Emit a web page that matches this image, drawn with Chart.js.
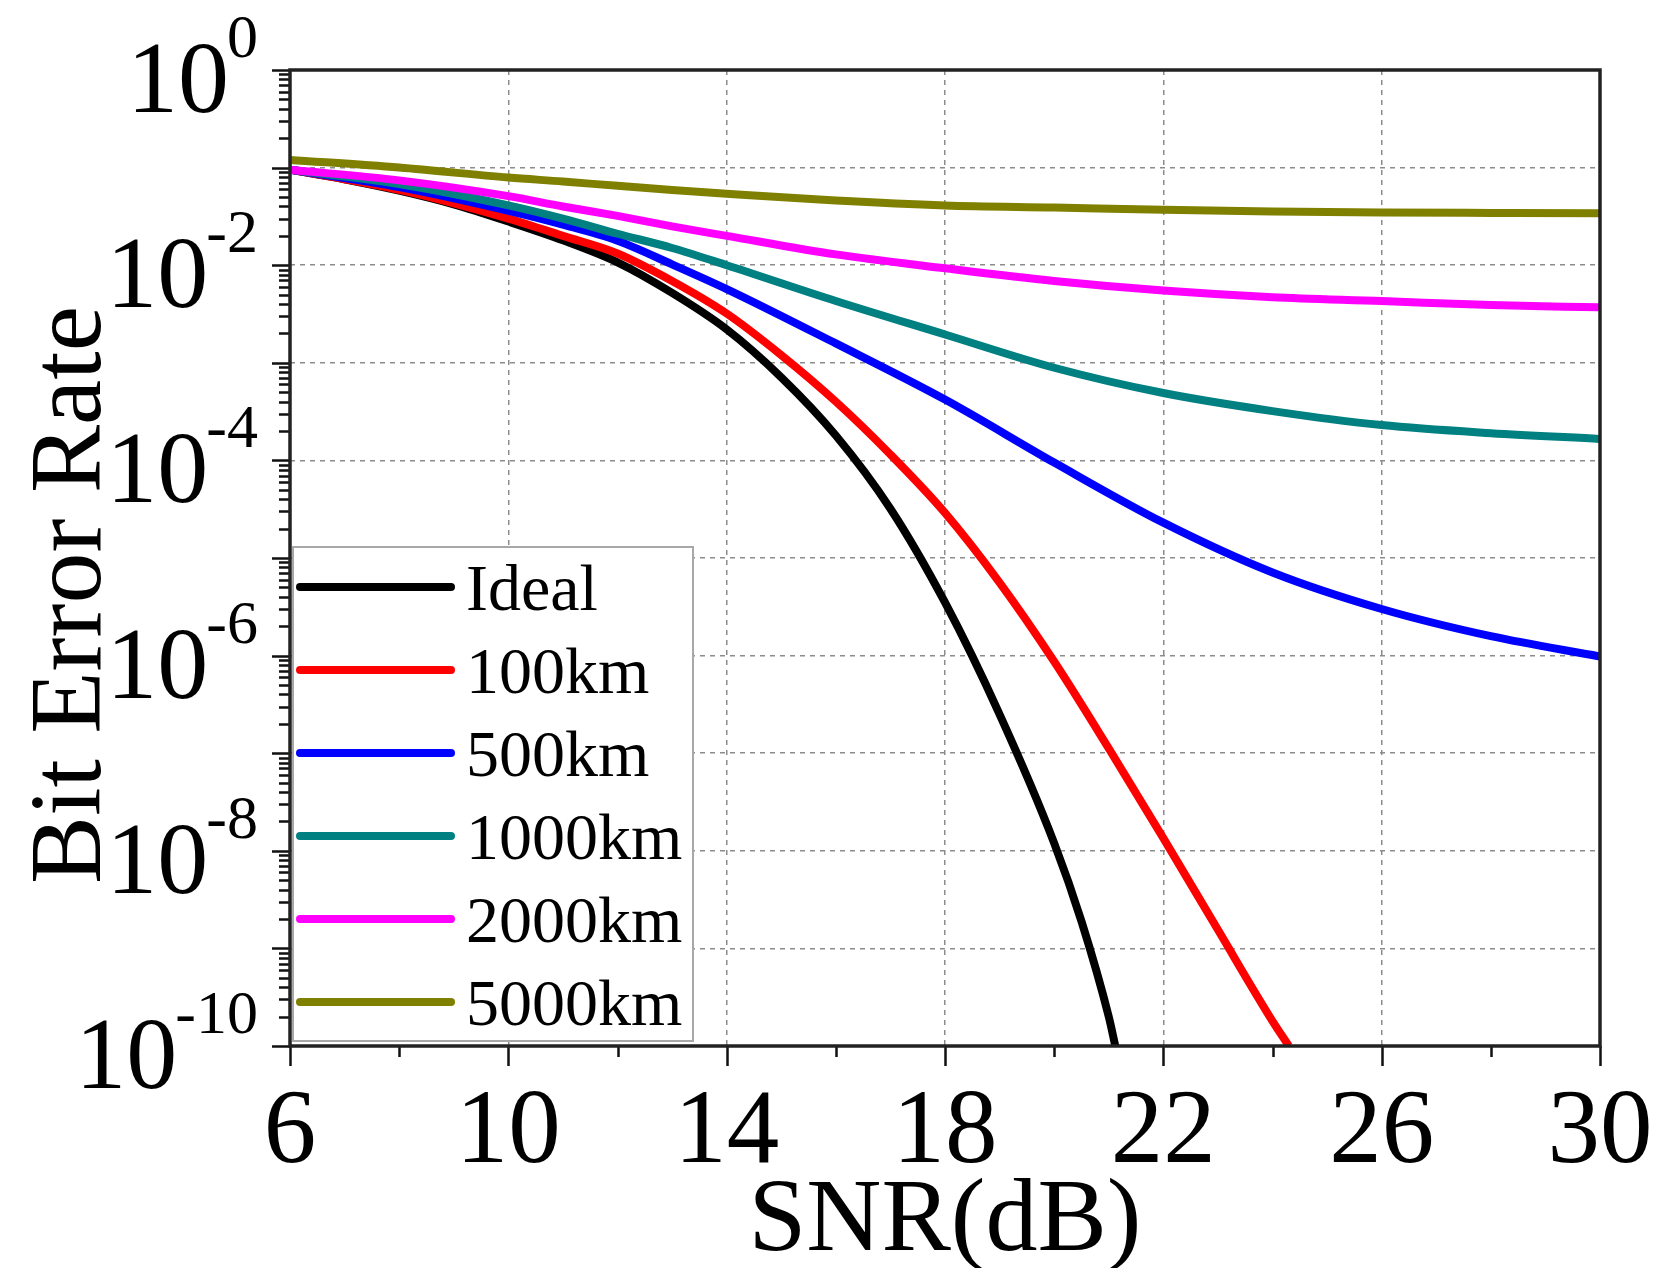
<!DOCTYPE html>
<html>
<head>
<meta charset="utf-8">
<title>Bit Error Rate vs SNR</title>
<script src="https://cdn.jsdelivr.net/npm/chart.js"></script>
<style>
    html, body { margin: 0; padding: 0; background: #ffffff; }
    canvas { display: block; }
</style>
</head>
<body>
<canvas id="berChart" width="1657" height="1268"></canvas>
<script>
// SNR sample points (dB) and BER values
const snrIdeal = [6, 7, 8, 9, 10, 11, 12, 13, 14, 15, 16, 17, 18, 19, 20, 20.5, 21, 21.12];
const berIdeal = [9.5e-2, 7.6e-2, 5.8e-2, 4.2e-2, 2.8e-2, 1.8e-2, 1.07e-2, 5.2e-3, 2.2e-3, 7.1e-4, 1.8e-4, 3.2e-5, 3.5e-6, 2.5e-7, 1.2e-8, 1.9e-9, 2.0e-10, 1e-10];

const snr100 = [6, 7, 8, 9, 10, 11, 12, 13, 14, 15, 16, 17, 18, 19, 20, 21, 22, 23, 24, 24.3];
const ber100 = [9.5e-2, 7.6e-2, 5.9e-2, 4.3e-2, 3.0e-2, 2.0e-2, 1.32e-2, 6.9e-3, 3.2e-3, 1.2e-3, 4.0e-4, 1.15e-4, 2.9e-5, 5.6e-6, 8.7e-7, 1.12e-7, 1.35e-8, 1.55e-9, 1.8e-10, 1e-10];

const snrLong = [6, 8, 10, 11, 12, 13, 14, 16, 18, 20, 22, 24, 26, 28, 30];
const ber500 = [9.5e-2, 6.3e-2, 3.6e-2, 2.6e-2, 1.78e-2, 1.02e-2, 5.7e-3, 1.58e-3, 4.2e-4, 9.5e-5, 2.3e-5, 7.1e-6, 3.0e-6, 1.58e-6, 9.8e-7];
const ber1000 = [9.5e-2, 6.8e-2, 4.1e-2, 3.0e-2, 2.1e-2, 1.5e-2, 1.0e-2, 4.3e-3, 1.95e-3, 8.9e-4, 4.9e-4, 3.2e-4, 2.3e-4, 1.9e-4, 1.66e-4];
const ber2000 = [9.5e-2, 7.4e-2, 5.1e-2, 4.0e-2, 3.2e-2, 2.5e-2, 2.0e-2, 1.29e-2, 9.3e-3, 6.9e-3, 5.5e-3, 4.7e-3, 4.3e-3, 3.9e-3, 3.7e-3];
const ber5000 = [0.12, 0.10, 7.9e-2, 7.2e-2, 6.5e-2, 5.9e-2, 5.4e-2, 4.6e-2, 4.1e-2, 3.9e-2, 3.7e-2, 3.55e-2, 3.47e-2, 3.43e-2, 3.4e-2];

const seriesNames = ['Ideal', '100km', '500km', '1000km', '2000km', '5000km'];
const seriesColors = ['#000000', '#ff0000', '#0000ff', '#008080', '#ff00ff', '#808000'];
const seriesSnr = [snrIdeal, snr100, snrLong, snrLong, snrLong, snrLong];
const seriesBer = [berIdeal, ber100, ber500, ber1000, ber2000, ber5000];

// axis ticks
const xTickValues = [6, 8, 10, 12, 14, 16, 18, 20, 22, 24, 26, 28, 30];
const xTickLabels = [6, 10, 14, 18, 22, 26, 30];
const yDecades = [0, -1, -2, -3, -4, -5, -6, -7, -8, -9, -10];
const yLabelExps = [0, -2, -4, -6, -8, -10];

const FONT = '"Liberation Serif", "Times New Roman", serif';

function buildYTicks() {
    const ticks = [];
    yDecades.forEach(e => {
        for (let m = 1; m <= 9; m++) {
            const v = m * Math.pow(10, e);
            if (v <= 1 && v >= 1e-10) ticks.push({ value: v });
        }
    });
    return ticks;
}

function isDecade(v) {
    const l = Math.log10(v);
    return Math.abs(l - Math.round(l)) < 1e-6;
}

// ticks, labels, frame, titles and legend drawn on top of the data
const decorPlugin = {
    id: 'decor',
    afterDraw(chart) {
        const ctx = chart.ctx;
        const area = chart.chartArea;
        const xs = chart.scales.x;
        const ys = chart.scales.y;
        ctx.save();

        // tick marks (outside)
        ctx.strokeStyle = '#111';
        ctx.lineWidth = 2.5;
        ctx.beginPath();
        buildYTicks().forEach(t => {
            const py = Math.round(ys.getPixelForValue(t.value)) + 0.5;
            const len = isDecade(t.value) ? 18 : 11;
            ctx.moveTo(area.left - len, py);
            ctx.lineTo(area.left, py);
        });
        xTickValues.forEach(v => {
            const px = Math.round(xs.getPixelForValue(v)) + 0.5;
            const len = (v - 6) % 4 === 0 ? 20 : 11;
            ctx.moveTo(px, area.bottom);
            ctx.lineTo(px, area.bottom + len);
        });
        ctx.stroke();

        // y tick labels 10^n, exponent right edge at x=257
        ctx.fillStyle = '#000';
        ctx.textBaseline = 'alphabetic';
        ctx.textAlign = 'left';
        yLabelExps.forEach(e => {
            const py = ys.getPixelForValue(Math.pow(10, e));
            const expText = e === 0 ? '0' : '-' + Math.abs(e);
            ctx.font = '62px ' + FONT;
            const expW = ctx.measureText(expText).width;
            ctx.font = '102px ' + FONT;
            const baseW = ctx.measureText('10').width;
            const expX = 258 - expW;
            ctx.fillText('10', expX - baseW + 2, py + 42);
            ctx.font = '62px ' + FONT;
            ctx.fillText(expText, expX, py - 13);
        });

        // x tick labels
        ctx.font = '105px ' + FONT;
        ctx.textAlign = 'center';
        xTickLabels.forEach(v => {
            ctx.fillText(String(v), xs.getPixelForValue(v), 1162);
        });

        // axis titles
        ctx.font = '104px ' + FONT;
        ctx.fillText('SNR(dB)', (area.left + area.right) / 2, 1250);
        ctx.save();
        ctx.translate(100, 595);
        ctx.rotate(-Math.PI / 2);
        ctx.font = '102px ' + FONT;
        ctx.fillText('Bit Error Rate', 0, 0);
        ctx.restore();

        // legend box inside the plot, lower left
        const box = { left: 293, top: 547, right: 693, bottom: 1041 };
        ctx.fillStyle = '#fff';
        ctx.fillRect(box.left, box.top, box.right - box.left, box.bottom - box.top);
        ctx.strokeStyle = '#a8a8a8';
        ctx.lineWidth = 2;
        ctx.strokeRect(box.left, box.top, box.right - box.left, box.bottom - box.top);
        ctx.font = '66px ' + FONT;
        ctx.textAlign = 'left';
        chart.data.datasets.forEach((ds, i) => {
            const y = 587 + i * 83;
            ctx.strokeStyle = ds.borderColor;
            ctx.lineWidth = 8;
            ctx.lineCap = 'round';
            ctx.beginPath();
            ctx.moveTo(300, y);
            ctx.lineTo(451, y);
            ctx.stroke();
            ctx.fillStyle = '#000';
            ctx.fillText(ds.label, 466, y + 23);
        });

        // frame
        ctx.lineCap = 'butt';
        ctx.lineWidth = 3.5;
        ctx.strokeStyle = '#222';
        ctx.strokeRect(area.left, area.top, area.right - area.left, area.bottom - area.top);

        ctx.restore();
    }
};

document.addEventListener('DOMContentLoaded', function() {
    const datasets = seriesNames.map((name, i) => ({
        label: name,
        data: seriesSnr[i].map((x, j) => ({ x: x, y: seriesBer[i][j] })),
        borderColor: seriesColors[i],
        backgroundColor: seriesColors[i],
        borderWidth: 8,
        pointRadius: 0,
        fill: false,
        cubicInterpolationMode: 'monotone',
        order: 5 - i
    }));

    const ctx = document.getElementById('berChart').getContext('2d');
    new Chart(ctx, {
        type: 'line',
        data: { datasets: datasets },
        options: {
            responsive: false,
            animation: false,
            layout: { padding: { left: 0, top: 70, right: 57, bottom: 0 } },
            plugins: {
                legend: { display: false },
                tooltip: { enabled: false }
            },
            scales: {
                x: {
                    type: 'linear',
                    min: 6,
                    max: 30,
                    afterBuildTicks: s => { s.ticks = xTickValues.map(v => ({ value: v })); },
                    afterFit: s => { s.height = 222; },
                    ticks: { display: false },
                    border: { display: false, dash: [5, 5] },
                    grid: {
                        drawTicks: false,
                        lineWidth: 1.5,
                        color: c => {
                            const v = c.tick ? c.tick.value : 0;
                            return (v > 6 && v < 30 && (v - 6) % 4 === 0) ? '#8c8c8c' : 'rgba(0,0,0,0)';
                        }
                    }
                },
                y: {
                    type: 'logarithmic',
                    min: 1e-10,
                    max: 1,
                    afterBuildTicks: s => { s.ticks = buildYTicks(); },
                    afterFit: s => { s.width = 290; },
                    ticks: { display: false },
                    border: { display: false, dash: [5, 5] },
                    grid: {
                        drawTicks: false,
                        lineWidth: 1.5,
                        color: c => {
                            const v = c.tick ? c.tick.value : 1;
                            return (isDecade(v) && v < 0.5 && v > 2e-10) ? '#8c8c8c' : 'rgba(0,0,0,0)';
                        }
                    }
                }
            }
        },
        plugins: [decorPlugin]
    });
});
</script>
</body>
</html>
